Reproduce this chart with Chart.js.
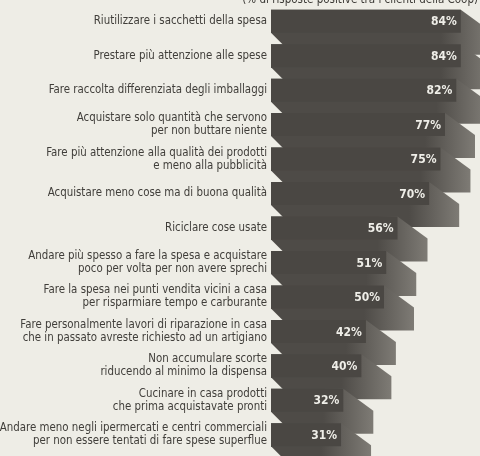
<!DOCTYPE html>
<html>
<head>
<meta charset="utf-8">
<script src="https://cdn.jsdelivr.net/npm/chart.js@4.4.0/dist/chart.umd.min.js"></script>
<style>
  html, body { margin: 0; padding: 0; background: #eeede6; }
  #wrap { width: 480px; height: 456px; position: relative; }
</style>
</head>
<body>
<div id="wrap"><canvas id="chart"></canvas></div>
<script>
// Chart data
const categories = [
    'Riutilizzare i sacchetti della spesa',
    'Prestare più attenzione alle spese',
    'Fare raccolta differenziata degli imballaggi',
    ['Acquistare solo quantità che servono', 'per non buttare niente'],
    ['Fare più attenzione alla qualità dei prodotti', 'e meno alla pubblicità'],
    'Acquistare meno cose ma di buona qualità',
    'Riciclare cose usate',
    ['Andare più spesso a fare la spesa e acquistare', 'poco per volta per non avere sprechi'],
    ['Fare la spesa nei punti vendita vicini a casa', 'per risparmiare tempo e carburante'],
    ['Fare personalmente lavori di riparazione in casa', 'che in passato avreste richiesto ad un artigiano'],
    ['Non accumulare scorte', 'riducendo al minimo la dispensa'],
    ['Cucinare in casa prodotti', 'che prima acquistavate pronti'],
    ['Andare meno negli ipermercati e centri commerciali', 'per non essere tentati di fare spese superflue']
];
const values = [84, 84, 82, 77, 75, 70, 56, 51, 50, 42, 40, 32, 31];
const subtitle = '(% di risposte positive tra i clienti della Coop)';

const FONT = '"DejaVu Sans Condensed", "DejaVu Sans", sans-serif';
const FRONT = '#4a4743';

// extruded "3D" block behind every bar
const shadowPlugin = {
    id: 'shadow3d',
    beforeDatasetsDraw(chart) {
        const ctx = chart.ctx;
        const bars = chart.getDatasetMeta(0).data;
        const dy = 22, dxL = 22, dxR = 30;
        ctx.save();
        bars.forEach(function (b) {
            const x0 = b.base, x1 = b.x;
            const y0 = b.y - b.height / 2, y1 = b.y + b.height / 2;
            const g = ctx.createLinearGradient(x1 - 20, 0, x1 + dxR, 0);
            g.addColorStop(0, '#4e4b47');
            g.addColorStop(1, '#7e7b75');
            ctx.fillStyle = g;
            ctx.beginPath();
            ctx.moveTo(x0, y0);
            ctx.lineTo(x1, y0);
            ctx.lineTo(x1 + dxR, y0 + dy);
            ctx.lineTo(x1 + dxR, y1 + dy);
            ctx.lineTo(x0 + dxL, y1 + dy);
            ctx.lineTo(x0, y1);
            ctx.closePath();
            ctx.fill();
        });
        ctx.restore();
    },
    afterDatasetsDraw(chart) {
        const ctx = chart.ctx;
        const bars = chart.getDatasetMeta(0).data;
        ctx.save();
        ctx.font = 'bold 12px ' + FONT;
        ctx.fillStyle = '#efeee8';
        ctx.textAlign = 'right';
        ctx.textBaseline = 'middle';
        bars.forEach(function (b, i) {
            ctx.fillText(values[i] + '%', b.x - 4, b.y + 1);
        });
        // subtitle, cropped at the top edge
        ctx.font = '11.5px ' + FONT;
        ctx.fillStyle = '#3c3a36';
        ctx.textBaseline = 'alphabetic';
        ctx.fillText(subtitle, 478, 3);
        ctx.restore();
    }
};

new Chart(document.getElementById('chart'), {
    type: 'bar',
    data: {
        labels: categories,
        datasets: [{
            data: values,
            backgroundColor: FRONT,
            borderWidth: 0,
            barPercentage: 0.667,
            categoryPercentage: 1
        }]
    },
    options: {
        indexAxis: 'y',
        responsive: true,
        maintainAspectRatio: false,
        animation: false,
        layout: { padding: { top: 4, bottom: 4, left: 0, right: 0 } },
        plugins: { legend: { display: false }, tooltip: { enabled: false } },
        scales: {
            x: { display: false, min: 0, max: 92.5 },
            y: {
                grid: { display: false, drawTicks: false },
                border: { display: false },
                ticks: {
                    autoSkip: false,
                    padding: 4,
                    color: '#403e3a',
                    font: { family: FONT, size: 11.4, lineHeight: 1.14 }
                },
                afterFit: function (scale) {
                    scale.width = 271;
                    scale.paddingTop = 0;
                    scale.paddingBottom = 0;
                }
            }
        }
    },
    plugins: [shadowPlugin]
});
</script>
</body>
</html>
